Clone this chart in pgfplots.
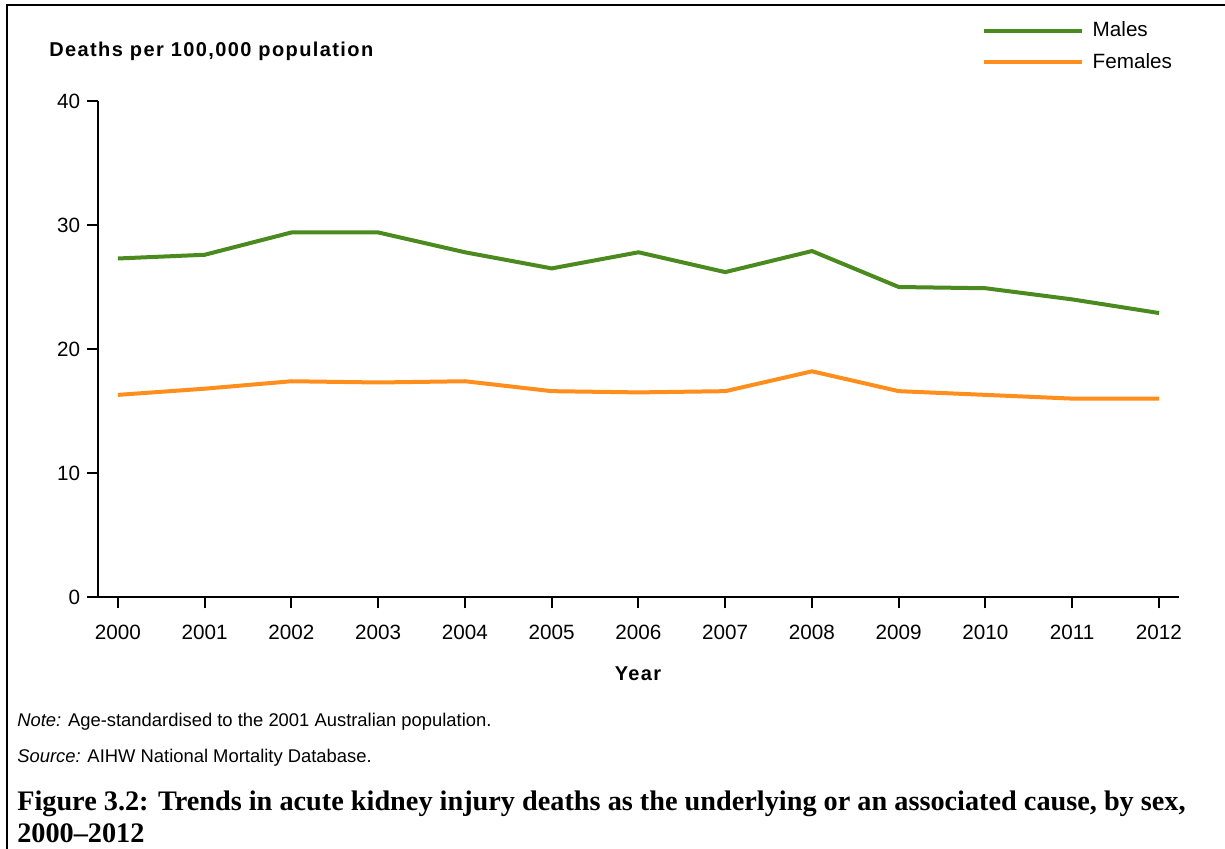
\documentclass[border=0pt]{standalone}
\usepackage{pgfplots}
\pgfplotsset{compat=1.18}
\usepackage{fontspec}
\setmainfont{Liberation Sans}
\newfontfamily\capfont{Liberation Serif}
\newfontfamily\spacedbold[LetterSpace=7]{Liberation Sans Bold}
\definecolor{males}{HTML}{4B8A1F}
\definecolor{females}{HTML}{FF8E1D}
\begin{document}
\begin{tikzpicture}[x=0.75pt,y=-0.75pt]
\useasboundingbox (0,0) rectangle (1225,849);
\draw[line width=1.9pt] (7,849) -- (7,5) -- (1225,5);
\begin{axis}[
  at={(73.5pt,-447.75pt)}, anchor=south west,
  scale only axis, width=810.75pt, height=372pt,
  xmin=1999.77, xmax=2012.23, ymin=0, ymax=40,
  xtick={2000,...,2012}, ytick={0,10,20,30,40},
  axis x line*=bottom, axis y line*=left,
  axis line style={-, line width=1.5pt, black},
  tick align=outside, major tick length=8.5pt,
  tick style={line width=1.5pt, black},
  ticklabel style={font=\fontsize{15.5}{18}\selectfont},
  xticklabel style={yshift=-9pt},
  yticklabel style={xshift=-1.5pt},
  /pgf/number format/assume math mode=true,
  /pgf/number format/1000 sep={},
  clip=false,
  legend style={draw=none, fill=none, inner sep=0pt, outer sep=0pt,
    at={(0.8178,1.164)}, anchor=north west,
    font=\fontsize{15.5}{18}\selectfont,
    cells={anchor=west, text height=11pt, text depth=3pt},
    row sep=7pt, column sep=4.5pt},
  legend image code/.code={\draw[#1] (0pt,0pt) -- (73.5pt,0pt);},
]
\addplot[males, line width=3pt] coordinates {
(2000,27.3) (2001,27.6) (2002,29.4) (2003,29.4) (2004,27.8) (2005,26.5)
(2006,27.8) (2007,26.2) (2008,27.9) (2009,25.0) (2010,24.9) (2011,24.0) (2012,22.9)};
\addlegendentry{Males}
\addplot[females, line width=3pt] coordinates {
(2000,16.3) (2001,16.8) (2002,17.4) (2003,17.3) (2004,17.4) (2005,16.6)
(2006,16.5) (2007,16.6) (2008,18.2) (2009,16.6) (2010,16.3) (2011,16.0) (2012,16.0)};
\addlegendentry{Females}
\end{axis}
\node[anchor=base west, inner sep=0pt, font=\spacedbold\fontsize{15}{17}\selectfont] at (49,57) {Deaths per 100,000 population};
\node[anchor=base, inner sep=0pt, font=\spacedbold\fontsize{15}{17}\selectfont] at (638,680) {Year};
\node[anchor=base west, inner sep=0pt, font=\fontsize{13.8}{16}\selectfont] at (17,726) {\textit{Note:} Age-standardised to the 2001 Australian population.};
\node[anchor=base west, inner sep=0pt, font=\fontsize{13.8}{16}\selectfont] at (17,762) {\textit{Source:} AIHW National Mortality Database.};
\node[anchor=base west, inner sep=0pt, font=\capfont\bfseries\fontsize{21.2}{24}\selectfont] at (17,810) {Figure 3.2: Trends in acute kidney injury deaths as the underlying or an associated cause, by sex,};
\node[anchor=base west, inner sep=0pt, font=\capfont\bfseries\fontsize{21.2}{24}\selectfont] at (17,842) {2000–2012};
\end{tikzpicture}
\end{document}
